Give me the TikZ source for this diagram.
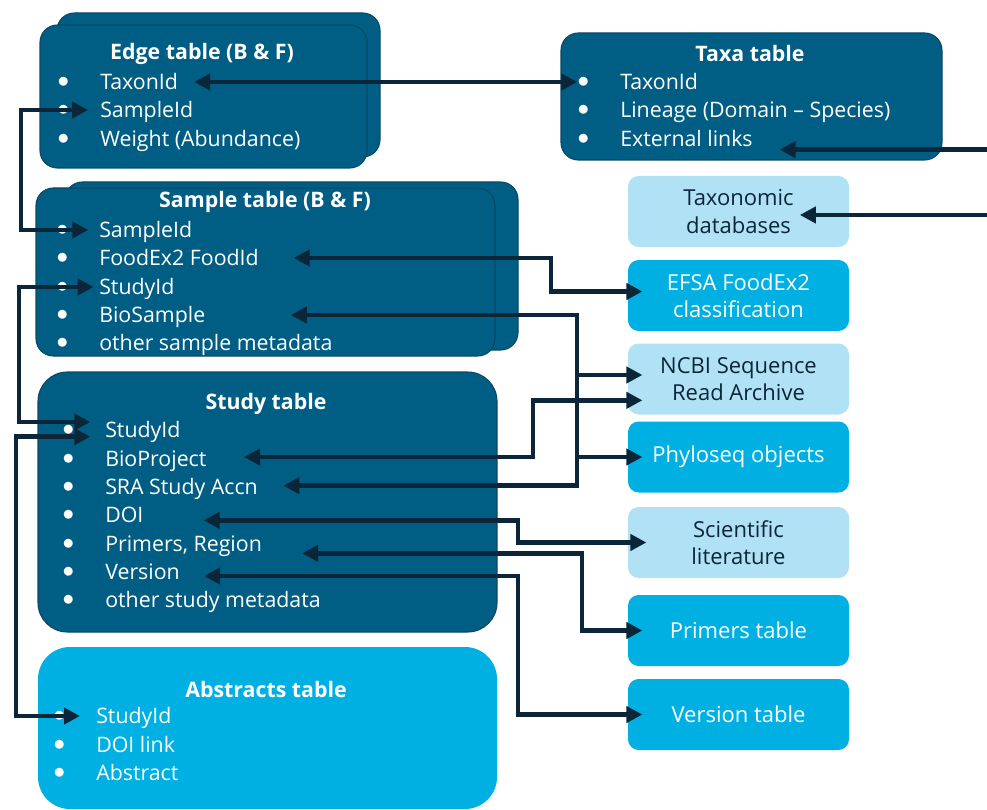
\documentclass[tikz,border=0pt]{standalone}
\usepackage{fontspec}
\setmainfont{Open Sans}
\usetikzlibrary{arrows.meta}
\definecolor{tabdark}{HTML}{005E85}
\definecolor{tabline}{HTML}{0A4866}
\definecolor{tabcyan}{HTML}{00B0E2}
\definecolor{tablight}{HTML}{B0E1F5}
\definecolor{linkc}{HTML}{0B2638}
\tikzset{
  tab/.style={fill=tabdark,draw=tabline,line width=0.8pt,rounded corners=13pt},
  ttl/.style={text=white,font=\fontsize{16}{19}\selectfont\bfseries},
  fld/.style={anchor=west,inner sep=0pt,text height=11.7pt,text depth=0pt,text=white,
    font=\fontsize{16}{19}\selectfont,
    label={[text=white,inner sep=0pt,label distance=23pt,font=\fontsize{16}{16}\selectfont]left:$\bullet$}},
  ext/.style={rounded corners=8pt,minimum width=165.75pt,minimum height=53.25pt,
    align=center,font=\fontsize{16.5}{20.5}\selectfont},
  extc/.style={ext,fill=tabcyan,text=white},
  extl/.style={ext,fill=tablight,text=linkc},
  link/.style={draw=linkc,line width=3.3pt},
  >={Triangle[length=12pt,width=12pt]}
}
\begin{document}
\begin{tikzpicture}[x=0.75pt,y=-0.75pt]
  \useasboundingbox (0,0) rectangle (987,809);
  \draw[tab] (57,13) rectangle (380,157);
  \draw[tab] (40,25) rectangle (367,168);
  \node[ttl] (edgeT) at (202,54) {Edge table (B \& F)};
  \node[fld] (edgeTaxon) at (100,82) {TaxonId};
  \node[fld] (edgeSample) at (100,110) {SampleId};
  \node[fld] (edgeWeight) at (100,139) {Weight (Abundance)};

  \draw[tab] (561,33) rectangle (942,160);
  \node[ttl] (taxaT) at (750,54) {Taxa table};
  \node[fld] (taxaTaxon) at (620,82) {TaxonId};
  \node[fld] (taxaLin) at (620,110) {Lineage (Domain -- Species)};
  \node[fld] (taxaExt) at (620,139) {External links};

  \draw[tab] (65,182) rectangle (518,350);
  \draw[tab] (36,188) rectangle (495,356);
  \node[ttl] (sampT) at (265,202) {Sample table (B \& F)};
  \node[fld] (sampSample) at (99,230) {SampleId};
  \node[fld] (sampFood) at (99,258) {FoodEx2 FoodId};
  \node[fld] (sampStudy) at (99,287) {StudyId};
  \node[fld] (sampBio) at (99,315) {BioSample};
  \node[fld] (sampOther) at (99,343) {other sample metadata};

  \draw[tab,rounded corners=22pt] (38,372) rectangle (497,632);
  \node[ttl] (studT) at (266,404) {Study table};
  \node[fld] (studStudy) at (105,430) {StudyId};
  \node[fld] (studBioP) at (105,459) {BioProject};
  \node[fld] (studSRA) at (105,487) {SRA Study Accn};
  \node[fld] (studDOI) at (105,515) {DOI};
  \node[fld] (studPrim) at (105,544) {Primers, Region};
  \node[fld] (studVer) at (105,572) {Version};
  \node[fld] (studOther) at (105,600) {other study metadata};

  \fill[tabcyan,rounded corners=24pt] (38,647) rectangle (497,809);
  \node[ttl] (absT) at (266,689) {Abstracts table};
  \node[fld] (absStudy) at (96,716) {StudyId};
  \node[fld] (absDOI) at (96,745) {DOI link};
  \node[fld] (absAbs) at (96,773) {Abstract};

  \node[extl] (taxdb) at (738.5,211.5) {Taxonomic\\databases};
  \node[extc] (efsa) at (738.5,295.5) {EFSA FoodEx2\\classification};
  \node[extl] (ncbi) at (738.5,379) {NCBI Sequence\\Read Archive};
  \node[extc] (phylo) at (738.5,457) {Phyloseq objects};
  \node[extl] (scilit) at (738.5,542.5) {Scientific\\literature};
  \node[extc] (primtab) at (738.5,630.5) {Primers table};
  \node[extc] (vertab) at (738.5,714.5) {Version table};

  \coordinate (cA) at (21,0);
  \coordinate (cB) at (19,0);
  \coordinate (cC) at (16,0);
  \coordinate (cF) at (551,0);
  \coordinate (cG) at (577,0);
  \coordinate (cH) at (533,0);
  \coordinate (cI) at (518,0);
  \coordinate (cJ) at (582,0);
  \coordinate (cR) at (1000,0);

  \coordinate (extTip) at ([xshift=20pt,yshift=-8pt]taxaExt.east);
  \coordinate (dbTip) at ([xshift=46pt,yshift=-2.6pt]taxdb.center);
  \coordinate (foodTip) at ([xshift=26pt]sampFood.east);
  \coordinate (efsaTip) at ([xshift=11pt,yshift=3pt]efsa.west);
  \coordinate (bioTip) at ([xshift=64pt]sampBio.east);
  \coordinate (sraTip) at ([xshift=19pt,yshift=1pt]studSRA.east);
  \coordinate (ncbiTipA) at ([xshift=11pt,yshift=3pt]ncbi.west);
  \coordinate (ncbiTipB) at ([xshift=11pt,yshift=-16pt]ncbi.west);
  \coordinate (phyloTip) at ([xshift=11pt]phylo.west);
  \coordinate (bioPTip) at ([xshift=28pt,yshift=1.5pt]studBioP.east);
  \coordinate (doiTip) at ([xshift=45pt,yshift=-4pt]studDOI.east);
  \coordinate (scilitTip) at ([xshift=14pt]scilit.west);
  \coordinate (primTip) at ([xshift=30pt,yshift=-7pt]studPrim.east);
  \coordinate (primtabTip) at ([xshift=11pt]primtab.west);
  \coordinate (verTip) at ([xshift=18pt,yshift=-3pt]studVer.east);
  \coordinate (vertabTip) at ([xshift=11pt]vertab.west);

  \draw[link,<->] ([xshift=12pt]edgeTaxon.east) -- ([xshift=-32pt]taxaTaxon.west);
  \draw[link,<->] ([xshift=-9pt]edgeSample.west) -- (edgeSample.west -| cA) |- ([xshift=-8pt]sampSample.west);
  \draw[link,<->] ([xshift=-4pt]sampStudy.west) -- (sampStudy.west -| cB) |- ([xshift=-11pt,yshift=6pt]studStudy.west);
  \draw[link,<->] ([xshift=-12pt]absStudy.west) -- (absStudy.west -| cC) |- ([xshift=-11pt,yshift=-5pt]studStudy.west);
  \draw[link,<->] (extTip) -- (extTip -| cR) |- (dbTip);
  \draw[link,<->] (foodTip) -- (foodTip -| cF) |- (efsaTip);
  \draw[link,<->] (bioTip) -- (bioTip -| cG) |- (sraTip);
  \draw[link,->] (ncbiTipA -| cG) -- (ncbiTipA);
  \draw[link,->] (phyloTip -| cG) -- (phyloTip);
  \draw[link,<->] (bioPTip) -- (bioPTip -| cH) |- (ncbiTipB);
  \draw[link,<->] (doiTip) -- (doiTip -| cI) |- (scilitTip);
  \draw[link,<->] (primTip) -- (primTip -| cJ) |- (primtabTip);
  \draw[link,<->] (verTip) -- (verTip -| cI) |- (vertabTip);
\end{tikzpicture}
\end{document}
